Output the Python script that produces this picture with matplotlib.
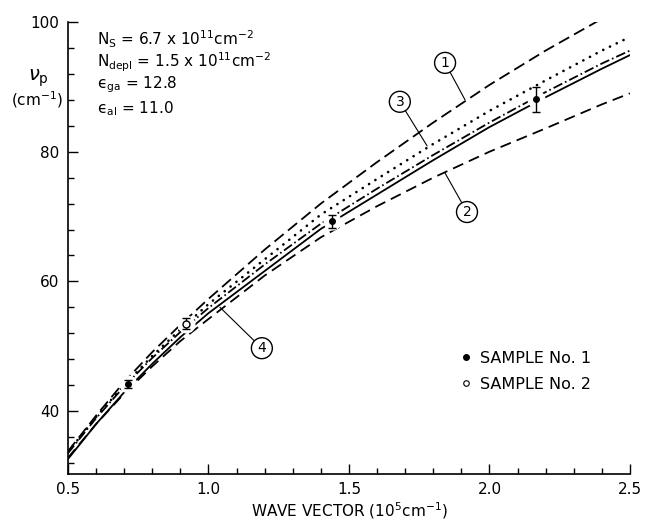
import numpy as np
import matplotlib
matplotlib.use("Agg")
import matplotlib.pyplot as plt

plt.rcParams['font.family'] = ['DejaVu Sans']
plt.rcParams['mathtext.fontset'] = 'dejavusans'
plt.rcParams['lines.scale_dashes'] = False

# wave vector (10^5 cm^-1)
k = [0.5, 0.6, 0.7, 0.8, 0.9, 1.0, 1.2, 1.4, 1.6, 1.8, 2.0, 2.2, 2.4, 2.5]

# curve 1 (upper dashed), runs off the top near k=2.38
curve1 = [33.8, 39.3, 44.5, 49.1, 53.3, 57.3, 64.9, 72.0, 78.4, 84.5, 90.3, 95.6, 100.5, 103.0]
# curve 2 (lower dashed)
curve2 = [32.8, 38.0, 42.7, 46.9, 50.8, 54.2, 60.9, 66.8, 71.6, 76.0, 80.0, 83.6, 87.3, 89.0]
# curve 3 (dotted)
curve3 = [33.7, 39.1, 44.0, 48.5, 52.6, 56.5, 63.4, 70.3, 75.8, 81.2, 86.3, 91.0, 95.6, 97.7]
# dash-dot
curve_dd = [33.5, 38.9, 43.8, 48.2, 52.2, 55.9, 62.6, 68.9, 74.3, 79.5, 84.5, 89.2, 93.6, 95.6]
# curve 4 (solid)
curve4 = [32.6, 38.0, 42.9, 47.3, 51.4, 55.1, 61.6, 68.1, 73.4, 78.7, 83.8, 88.4, 92.8, 94.9]

# measured points
s1_k = [0.714, 1.44, 2.165]
s1_nu = [44.2, 69.3, 88.1]
s1_err = [0.6, 1.0, 1.9]
s2_k = [0.92]
s2_nu = [53.5]
s2_err = [0.9]

fig = plt.figure(figsize=(6.58, 5.23), dpi=100)
ax = fig.add_axes([0.1033, 0.0937, 0.8541, 0.8642])

lw = 1.3
ax.plot(k, curve1, color='black', lw=lw, dashes=(8.5, 4.0), zorder=2)
ax.plot(k, curve2, color='black', lw=lw, dashes=(8.0, 4.5), zorder=2)
ax.plot(k, curve3, color='black', lw=1.9, dashes=(0.1, 5.3), dash_capstyle='round', zorder=2)
ax.plot(k, curve_dd, color='black', lw=lw, dashes=(7.0, 2.2, 1.2, 2.2), zorder=2)
ax.plot(k, curve4, color='black', lw=lw, zorder=2)

# white gaps in the curves around the measured points
ax.plot(s1_k + s2_k, s1_nu + s2_nu, 'o', ms=12, color='white', mec='white', zorder=3)

ax.errorbar(s1_k, s1_nu, yerr=s1_err, fmt='o', ms=4, color='black', ecolor='black',
            elinewidth=1.0, capsize=3, capthick=1.0, zorder=4)
ax.errorbar(s2_k, s2_nu, yerr=s2_err, fmt='o', ms=5, mfc='white', mec='black', ecolor='black',
            elinewidth=1.0, capsize=3, capthick=1.0, zorder=4)

ax.set_xlim(0.5, 2.5)
ax.set_ylim(30.3, 100)
ax.set_xticks([0.5, 1.0, 1.5, 2.0, 2.5])
ax.set_xticklabels(['0.5', '1.0', '1.5', '2.0', '2.5'])
ax.set_xticks(np.arange(0.6, 2.5, 0.1), minor=True)
ax.set_yticks([40, 60, 80, 100])
ax.set_yticks([32, 36, 44, 48, 52, 56, 64, 68, 72, 76, 84, 88, 92, 96], minor=True)
ax.tick_params(which='both', direction='in', width=1.0, labelsize=11, pad=6)
ax.tick_params(which='major', length=7)
ax.tick_params(which='minor', length=4.5)
ax.spines['top'].set_visible(False)
ax.spines['right'].set_visible(False)
ax.spines['left'].set_linewidth(1.2)
ax.spines['bottom'].set_linewidth(1.2)

ax.set_xlabel('WAVE VECTOR (10$^5$cm$^{-1}$)', fontsize=11, labelpad=2)
fig.text(0.058, 0.851, r'$\nu_\mathregular{p}$', fontsize=14, ha='center', va='center')
fig.text(0.056, 0.809, '(cm$^{-1}$)', fontsize=11, ha='center', va='center')

fig.text(0.147, 0.924, r'N$_\mathregular{S}$ = 6.7 x 10$^{11}$cm$^{-2}$', fontsize=11, va='center')
fig.text(0.147, 0.881, r'N$_\mathregular{depl}$ = 1.5 x 10$^{11}$cm$^{-2}$', fontsize=11, va='center')
fig.text(0.147, 0.839, r'ϵ$_\mathregular{ga}$ = 12.8', fontsize=11, va='center')
fig.text(0.147, 0.793, r'ϵ$_\mathregular{al}$ = 11.0', fontsize=11, va='center')

circ = dict(boxstyle='circle,pad=0.25', fc='white', ec='black', lw=1.0)
arr = dict(arrowstyle='-', lw=0.8, color='black', shrinkA=0, shrinkB=0)
ax.annotate('1', xy=(1.913, 88.0), xytext=(1.842, 93.7), fontsize=10, ha='center', va='center',
            bbox=circ, arrowprops=arr)
ax.annotate('2', xy=(1.842, 76.7), xytext=(1.92, 70.7), fontsize=10, ha='center', va='center',
            bbox=circ, arrowprops=arr)
ax.annotate('3', xy=(1.778, 80.9), xytext=(1.681, 87.7), fontsize=10, ha='center', va='center',
            bbox=circ, arrowprops=arr)
ax.annotate('4', xy=(1.041, 56.0), xytext=(1.19, 49.7), fontsize=10, ha='center', va='center',
            bbox=circ, arrowprops=arr)

h1, = ax.plot([], [], 'o', ms=4, color='black')
h2, = ax.plot([], [], 'o', ms=4, mfc='white', mec='black', mew=0.8)
ax.legend([h1, h2], ['SAMPLE No. 1', 'SAMPLE No. 2'], loc='center left',
          bbox_to_anchor=(0.685, 0.227), frameon=False, fontsize=11.5,
          handlelength=0.6, handletextpad=0.6, labelspacing=0.7, borderpad=0)

fig.savefig('out.png', dpi=100)
